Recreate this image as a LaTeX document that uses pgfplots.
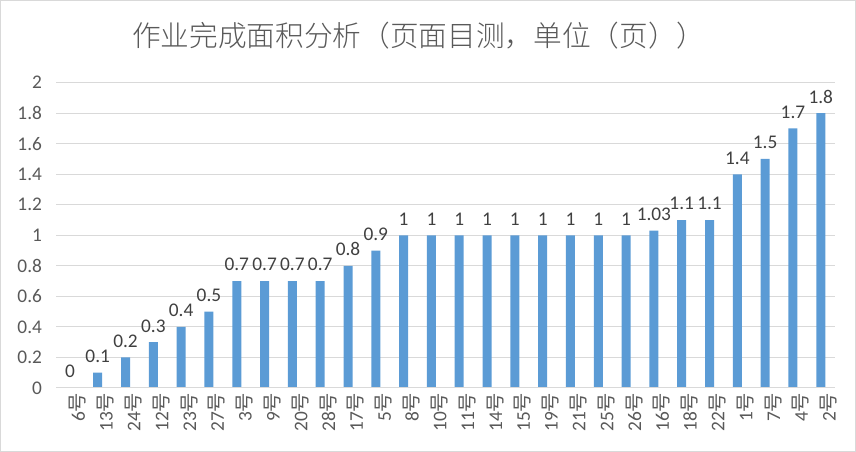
\documentclass[border=0pt]{standalone}
\usepackage{pgfplots}
\pgfplotsset{compat=1.18}
\usepackage{fontspec}
\setmainfont{Carlito}
\newfontfamily\cjk{Noto Sans CJK SC}
\newfontfamily\cjklight{Noto Sans CJK SC}[UprightFont={* Light}]
\definecolor{barblue}{HTML}{5B9BD5}
\definecolor{ticktext}{HTML}{595959}
\definecolor{labeltext}{HTML}{404040}
\definecolor{gridgray}{HTML}{D9D9D9}
\definecolor{bordergray}{HTML}{D9D9D9}
\begin{document}
\begin{tikzpicture}[x=1pt,y=1pt]
\path[use as bounding box] (0,0) rectangle (642,339);
\draw[draw=bordergray, line width=0.75pt] (0.5,0.5) rectangle (641.5,338.5);
\begin{axis}[
  at={(42pt,48pt)}, anchor=south west,
  scale only axis, width=584pt, height=229pt,
  ymin=0, ymax=2,
  ytick={0,0.2,0.4,0.6,0.8,1,1.2,1.4,1.6,1.8,2},
  yticklabels={0,0.2,0.4,0.6,0.8,1,1.2,1.4,1.6,1.8,2},
  xmin=-0.5, xmax=27.5,
  xtick={0,...,27},
  xticklabels={6{\cjk 号},13{\cjk 号},24{\cjk 号},12{\cjk 号},23{\cjk 号},27{\cjk 号},3{\cjk 号},9{\cjk 号},20{\cjk 号},28{\cjk 号},17{\cjk 号},5{\cjk 号},8{\cjk 号},10{\cjk 号},11{\cjk 号},14{\cjk 号},15{\cjk 号},19{\cjk 号},21{\cjk 号},25{\cjk 号},26{\cjk 号},16{\cjk 号},18{\cjk 号},22{\cjk 号},1{\cjk 号},7{\cjk 号},4{\cjk 号},2{\cjk 号}},
  axis line style={draw=none},
  major tick length=0pt,
  ymajorgrids,
  grid style={draw=gridgray, line width=0.75pt},
  y tick label style={font=\fontsize{14.5}{16}\selectfont, color=ticktext, xshift=-7pt},
  x tick label style={font=\fontsize{14.5}{16}\selectfont, color=ticktext, rotate=90, anchor=east, yshift=-6pt},
  ybar, bar width=6.75pt,
  nodes near coords,
  every node near coord/.append style={font=\fontsize{14.5}{16}\selectfont, color=labeltext, yshift=4pt, /pgf/number format/assume math mode=true},
  title={\cjklight 作业完成面积分析（页面目测，单位（页））},
  title style={at={(0.5,1)}, anchor=center, yshift=29pt, xshift=-20pt, font=\fontsize{21.5}{24}\selectfont, color=ticktext},
  after end axis/.code={\draw[gridgray, line width=0.75pt] (rel axis cs:0,0) -- (rel axis cs:1,0);},
]
\addplot[fill=barblue, draw=none] coordinates {
(0,0) (1,0.1) (2,0.2) (3,0.3) (4,0.4) (5,0.5) (6,0.7) (7,0.7) (8,0.7) (9,0.7)
(10,0.8) (11,0.9) (12,1) (13,1) (14,1) (15,1) (16,1) (17,1) (18,1) (19,1)
(20,1) (21,1.03) (22,1.1) (23,1.1) (24,1.4) (25,1.5) (26,1.7) (27,1.8)
};
\end{axis}
\end{tikzpicture}
\end{document}
